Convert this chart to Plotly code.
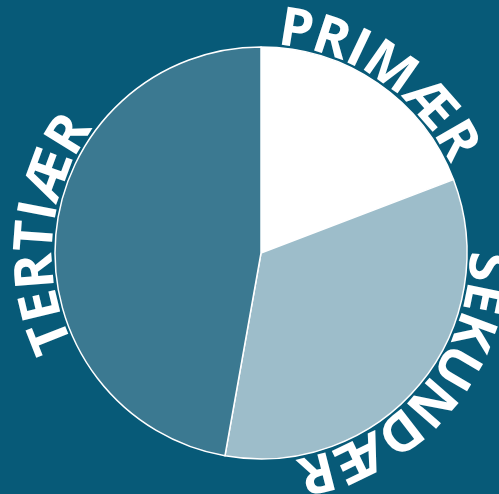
import math
import plotly.graph_objects as go

# Share of employment by sector (percent)
sectors = ["PRIMÆR", "SEKUNDÆR", "TERTIÆR"]
shares = [19.2, 33.6, 47.2]
slice_colors = ["#ffffff", "#9dbdca", "#3b7991"]

BG = "#075a78"
W, H = 499, 494
CX, CY, R = 261, 253, 206          # pie centre and radius, pixels
FONT_SIZE = 54
FONT = "Open Sans"
ADVANCE_SIZE = 53                   # size used for letter advances along the arc
BASELINE_R = R - 1                  # radius of the curved text baseline
CENTER_OFF = 0.39 * FONT_SIZE       # baseline -> centre of the text box

# approximate advance widths (em) of Open Sans Bold capitals
ADV = {"P": .606, "R": .637, "I": .342, "M": .930, "Æ": .914, "S": .538,
       "E": .544, "K": .637, "U": .707, "N": .771, "D": .712, "T": .562}

fig = go.Figure(go.Pie(
    labels=sectors, values=shares, sort=False, direction="clockwise",
    rotation=0, textinfo="none", hoverinfo="label+percent",
    marker=dict(colors=slice_colors, line=dict(color="white", width=1.5)),
    domain=dict(x=[(CX - R) / W, (CX + R) / W],
                y=[(H - CY - R) / H, (H - CY + R) / H]),
))

# curved labels: one rotated letter per shape label, laid along an arc
# centred on each slice; drawn below the pie so the pie overlaps them
total = sum(shares)
shapes = []
cum = 0.0
for name, val in zip(sectors, shares):
    mid = (cum + val / 2) / total * 360.0
    cum += val
    widths = [ADV[c] * ADVANCE_SIZE for c in name]
    centers = []
    s = 0.0
    for w in widths:
        centers.append(s + w / 2)
        s += w
    span = centers[-1] - centers[0]
    for ch, c in zip(name, centers):
        ang = mid + math.degrees((c - centers[0] - span / 2) / BASELINE_R)
        a = math.radians(ang)
        rr = BASELINE_R + CENTER_OFF
        px = CX + rr * math.sin(a)
        py = CY - rr * math.cos(a)
        x, y = px / W, 1 - py / H
        shapes.append(dict(
            type="line", xref="paper", yref="paper",
            x0=x, y0=y, x1=x + 1e-6, y1=y, layer="below",
            line=dict(width=0, color="rgba(0,0,0,0)"),
            label=dict(text=ch, textangle=ang, textposition="middle",
                       xanchor="center", yanchor="middle", padding=0,
                       font=dict(family=FONT, size=FONT_SIZE,
                                 color="white", weight="bold")),
        ))

fig.update_layout(
    width=W, height=H, margin=dict(l=0, r=0, t=0, b=0),
    paper_bgcolor=BG, plot_bgcolor=BG, showlegend=False,
    shapes=shapes,
)

fig.write_html("out.html")
